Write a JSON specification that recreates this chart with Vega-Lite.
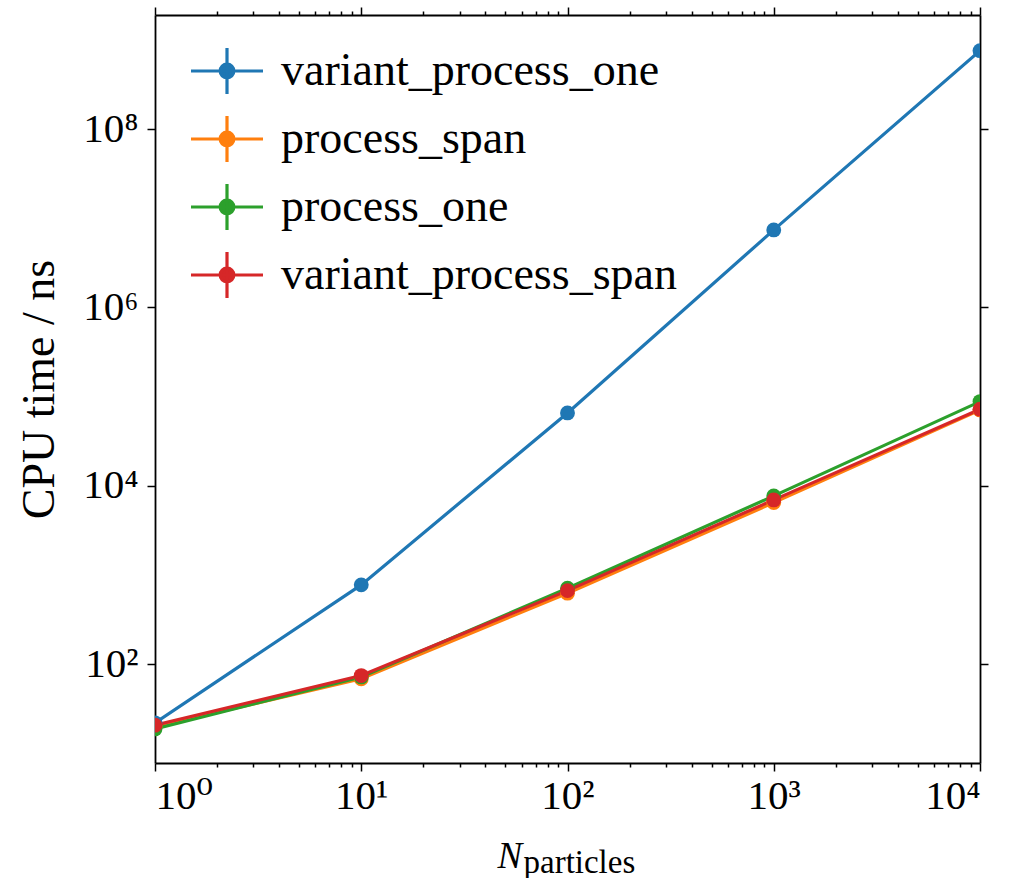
{
  "$schema": "https://vega.github.io/schema/vega-lite/v6.json",
  "width": 825,
  "height": 748,
  "autosize": {"type": "none"},
  "padding": {"left": 155, "top": 15, "right": 38, "bottom": 115},
  "background": "white",
  "config": {
    "view": {"stroke": null},
    "font": "'Liberation Serif', 'DejaVu Serif', serif",
    "axis": {
      "grid": false,
      "domainColor": "black",
      "domainWidth": 1.8,
      "tickColor": "black",
      "tickWidth": 1.5,
      "labelColor": "black",
      "titleColor": "black",
      "labelFont": "'Liberation Serif', 'DejaVu Serif', serif",
      "titleFont": "'Liberation Serif', 'DejaVu Serif', serif",
      "titleFontWeight": "normal",
      "zindex": 1
    },
    "legend": {
      "labelFont": "'Liberation Serif', 'DejaVu Serif', serif"
    }
  },
  "data": {
    "values": [
      {"benchmark": "variant_process_one", "n": 1, "t": 22},
      {"benchmark": "variant_process_one", "n": 10, "t": 775},
      {"benchmark": "variant_process_one", "n": 100, "t": 65600},
      {"benchmark": "variant_process_one", "n": 1000, "t": 7400000},
      {"benchmark": "variant_process_one", "n": 10000, "t": 757000000},
      {"benchmark": "process_span", "n": 1, "t": 19.8},
      {"benchmark": "process_span", "n": 10, "t": 68.6},
      {"benchmark": "process_span", "n": 100, "t": 625},
      {"benchmark": "process_span", "n": 1000, "t": 6480},
      {"benchmark": "process_span", "n": 10000, "t": 71000},
      {"benchmark": "process_one", "n": 1, "t": 18.8},
      {"benchmark": "process_one", "n": 10, "t": 72},
      {"benchmark": "process_one", "n": 100, "t": 711},
      {"benchmark": "process_one", "n": 1000, "t": 7710},
      {"benchmark": "process_one", "n": 10000, "t": 87900},
      {"benchmark": "variant_process_span", "n": 1, "t": 20.7},
      {"benchmark": "variant_process_span", "n": 10, "t": 74.5},
      {"benchmark": "variant_process_span", "n": 100, "t": 668},
      {"benchmark": "variant_process_span", "n": 1000, "t": 6950},
      {"benchmark": "variant_process_span", "n": 10000, "t": 72300}
    ]
  },
  "layer": [
    {
      "mark": {"type": "line", "strokeWidth": 3.2, "clip": true},
      "encoding": {
        "x": {
          "field": "n",
          "type": "quantitative",
          "scale": {"type": "log", "domain": [1, 10000], "nice": false},
          "axis": {
            "orient": "bottom",
            "values": [1,2,3,4,5,6,7,8,9,10,20,30,40,50,60,70,80,90,100,200,300,400,500,600,700,800,900,1000,2000,3000,4000,5000,6000,7000,8000,9000,10000],
            "tickSize": {"condition": {"test": "abs(log(datum.value)/LN10 - round(log(datum.value)/LN10)) < 0.001", "value": 8}, "value": 4},
            "labelExpr": "abs(log(datum.value)/LN10 - round(log(datum.value)/LN10)) < 0.001 ? '10' + ['⁰','¹','²','³','⁴','⁵','⁶','⁷','⁸','⁹'][round(log(datum.value)/LN10)] : ''",
            "labelOverlap": false,
            "labelFontSize": 41,
            "labelPadding": 5,
            "title": "N",
            "titleFontSize": 37,
            "titleFontStyle": "italic",
            "titleAlign": "left",
            "titleBaseline": "alphabetic",
            "titleX": 342,
            "titleY": 104
          }
        },
        "y": {
          "field": "t",
          "type": "quantitative",
          "scale": {"type": "log", "domain": [7.8, 1900000000], "nice": false},
          "axis": {
            "orient": "left",
            "values": [100, 10000, 1000000, 100000000],
            "tickSize": 8,
            "labelExpr": "'10' + ['⁰','¹','²','³','⁴','⁵','⁶','⁷','⁸','⁹'][round(log(datum.value)/LN10)]",
            "labelOverlap": false,
            "labelFontSize": 41,
            "labelPadding": 9,
            "title": "CPU time / ns",
            "titleFontSize": 46,
            "titleAngle": -90,
            "titleAlign": "center",
            "titleBaseline": "alphabetic",
            "titleX": -102,
            "titleY": 374
          }
        },
        "color": {
          "field": "benchmark",
          "type": "nominal",
          "scale": {
            "domain": ["variant_process_one", "process_span", "process_one", "variant_process_span"],
            "range": ["#1f77b4", "#ff7f0e", "#2ca02c", "#d62728"]
          },
          "legend": {
            "title": null,
            "orient": "none",
            "legendX": 34,
            "legendY": 18,
            "padding": 0,
            "symbolType": "M-1,0H1M0,-0.64V0.64M0.19,0A0.19,0.19,0,1,1,-0.19,0A0.19,0.19,0,1,1,0.19,0Z",
            "symbolSize": 5184,
            "symbolStrokeWidth": 3.2,
            "labelFont": "'Liberation Serif', 'DejaVu Serif', serif",
            "labelFontSize": 46,
            "labelColor": "black",
            "labelLimit": 700,
            "labelOffset": 16,
            "rowPadding": -8,
            "encode": {
              "symbols": {
                "update": {
                  "fill": {"scale": "color", "field": "value"},
                  "stroke": {"scale": "color", "field": "value"},
                  "opacity": {"value": 1}
                }
              }
            }
          }
        }
      }
    },
    {
      "mark": {"type": "point", "filled": true, "size": 220, "opacity": 1, "clip": true},
      "encoding": {
        "x": {
          "field": "n",
          "type": "quantitative",
          "axis": {
            "orient": "top",
            "values": [1,2,3,4,5,6,7,8,9,10,20,30,40,50,60,70,80,90,100,200,300,400,500,600,700,800,900,1000,2000,3000,4000,5000,6000,7000,8000,9000,10000],
            "tickSize": {"condition": {"test": "abs(log(datum.value)/LN10 - round(log(datum.value)/LN10)) < 0.001", "value": 8}, "value": 4},
            "labels": false,
            "title": "particles",
            "titleFontSize": 33,
            "titleFontStyle": "normal",
            "titleAngle": 0,
            "titleAlign": "left",
            "titleBaseline": "alphabetic",
            "titleX": 368,
            "titleY": 857
          }
        },
        "y": {
          "field": "t",
          "type": "quantitative",
          "axis": {
            "orient": "right",
            "values": [100, 10000, 1000000, 100000000],
            "tickSize": 8,
            "labels": false,
            "title": null
          }
        },
        "color": {"field": "benchmark", "type": "nominal"}
      }
    }
  ],
  "resolve": {"axis": {"x": "independent", "y": "independent"}}
}
